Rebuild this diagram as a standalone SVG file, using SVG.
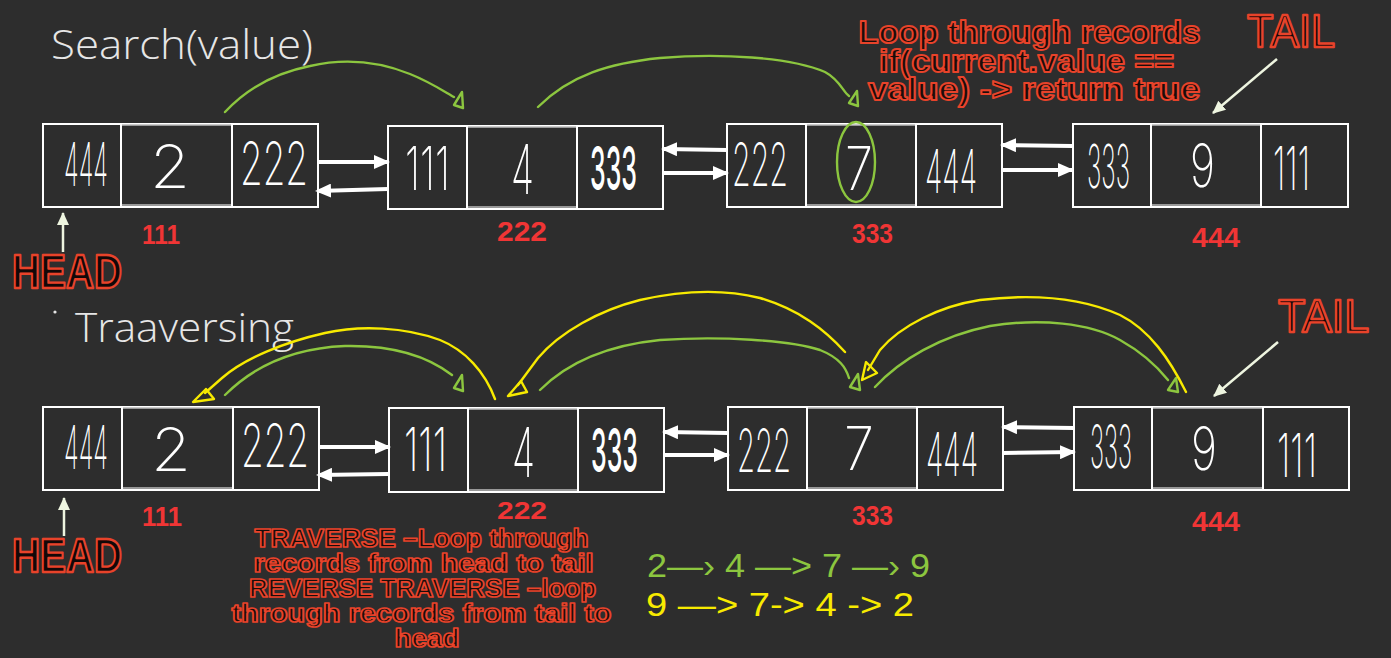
<svg xmlns="http://www.w3.org/2000/svg" width="1391" height="658" viewBox="0 0 1391 658">
<style>
.bg{fill:#2d2d2d}
.box{fill:none;stroke:#ffffff;stroke-width:2}
.div{stroke:#ffffff;stroke-width:2}
.mid{fill:none;stroke:#bdbdbd;stroke-width:1.5}
.dig{font-family:Inter,"Open Sans","Liberation Sans",sans-serif;font-weight:200;font-size:60px;fill:#ffffff}
.addr{font-family:"Liberation Sans Narrow","Liberation Sans",sans-serif;font-weight:bold;font-size:27px;fill:#f03535}
.title{font-family:"Open Sans",Lato,"Liberation Sans",sans-serif;font-weight:300;font-size:41px;fill:#e6e6e6}
.note{font-family:"Liberation Sans Narrow","Liberation Sans",sans-serif;font-weight:700;fill:#1a0d0a;stroke:#e8432a;stroke-width:1.9;stroke-linejoin:round}
.big{font-family:"Liberation Sans",sans-serif;fill:#120808;stroke:#e8432a;stroke-width:2.4;stroke-linejoin:round}
.ptr{stroke:#eef5e0;stroke-width:2.5;fill:none}
.link{stroke:#ffffff;stroke-width:4;fill:none;marker-end:url(#wh)}
.g{stroke:#8cc63f;stroke-width:2.4;fill:none;stroke-linecap:round;stroke-linejoin:round}
.y{stroke:#f7ea00;stroke-width:2.4;fill:none;stroke-linecap:round;stroke-linejoin:round}
.seq{font-family:"Liberation Sans",sans-serif;font-weight:300;font-size:34px}
</style>
<defs>
<marker id="wh" markerUnits="userSpaceOnUse" markerWidth="16" markerHeight="14" refX="14" refY="7" orient="auto">
<path d="M0,0 L16,7 L0,14 Z" fill="#ffffff"/>
</marker>
<marker id="pw" markerUnits="userSpaceOnUse" markerWidth="14" markerHeight="14" refX="12" refY="7" orient="auto">
<path d="M0,1 L13,7 L0,13 Z" fill="#eef5e0"/>
</marker>
</defs>
<rect class="bg" x="0" y="0" width="1391" height="658"/>

<g id="titles">
<text class="title" x="51" y="59" textLength="262" lengthAdjust="spacingAndGlyphs">Search(value)</text>
<circle cx="55" cy="312" r="1.6" fill="#e6e6e6"/>
<text class="title" x="75" y="342" textLength="219" lengthAdjust="spacingAndGlyphs">Traaversing</text>
</g>

<!-- Top row nodes -->
<g id="top-node-111">
<rect class="box" x="43" y="124" width="275" height="83"/>
<rect class="mid" x="121" y="125" width="111" height="80"/>
<line class="div" x1="121" y1="124" x2="121" y2="207"/><line class="div" x1="232" y1="124" x2="232" y2="207"/>
<text class="dig" transform="matrix(0.407 0 0 1 64 186)" textLength="108" lengthAdjust="spacingAndGlyphs">444</text>
<text class="dig" transform="matrix(1.11 0 0 1 150 188)" textLength="36" lengthAdjust="spacingAndGlyphs">2</text>
<text class="dig" transform="matrix(0.63 0 0 1 240 185)" textLength="108" lengthAdjust="spacingAndGlyphs">222</text>
<text class="addr" x="142" y="244" textLength="38" lengthAdjust="spacingAndGlyphs">111</text>
</g>
<g id="top-node-222">
<rect class="box" x="388" y="126" width="275" height="83"/>
<rect class="mid" x="467" y="127" width="110" height="80"/>
<line class="div" x1="467" y1="126" x2="467" y2="209"/><line class="div" x1="577" y1="126" x2="577" y2="209"/>
<text class="dig" transform="matrix(0.417 0 0 1 405 190)" textLength="108" lengthAdjust="spacingAndGlyphs">111</text>
<text class="dig" transform="matrix(0.56 0 0 1 511 194)" textLength="41" lengthAdjust="spacingAndGlyphs" style="font-size:68px">4</text>
<text class="dig" transform="matrix(0.435 0 0 1 590 190)" textLength="108" lengthAdjust="spacingAndGlyphs" style="font-weight:500">333</text>
<text class="addr" x="497" y="241" textLength="50" lengthAdjust="spacingAndGlyphs">222</text>
</g>
<g id="top-node-333">
<rect class="box" x="727" y="124" width="275" height="83"/>
<rect class="mid" x="806" y="125" width="110" height="80"/>
<line class="div" x1="806" y1="124" x2="806" y2="207"/><line class="div" x1="916" y1="124" x2="916" y2="207"/>
<text class="dig" transform="matrix(0.519 0 0 1 732 186)" textLength="108" lengthAdjust="spacingAndGlyphs">222</text>
<text class="dig" transform="matrix(0.778 0 0 1 845 190)" textLength="36" lengthAdjust="spacingAndGlyphs">7</text>
<ellipse cx="856" cy="162" rx="19" ry="40" class="g"/>
<text class="dig" transform="matrix(0.481 0 0 1 925 193)" textLength="108" lengthAdjust="spacingAndGlyphs">444</text>
<text class="addr" x="852" y="243" textLength="41" lengthAdjust="spacingAndGlyphs">333</text>
</g>
<g id="top-node-444">
<rect class="box" x="1073" y="124" width="275" height="83"/>
<rect class="mid" x="1151" y="125" width="110" height="80"/>
<line class="div" x1="1151" y1="124" x2="1151" y2="207"/><line class="div" x1="1261" y1="124" x2="1261" y2="207"/>
<text class="dig" transform="matrix(0.398 0 0 1 1087 188)" textLength="108" lengthAdjust="spacingAndGlyphs">333</text>
<text class="dig" transform="matrix(0.694 0 0 1 1190 187)" textLength="36" lengthAdjust="spacingAndGlyphs">9</text>
<text class="dig" transform="matrix(0.343 0 0 1 1273 190)" textLength="108" lengthAdjust="spacingAndGlyphs">111</text>
<text class="addr" x="1192" y="247" textLength="48" lengthAdjust="spacingAndGlyphs">444</text>
</g>

<!-- Bottom row nodes -->
<g id="bottom-node-111">
<rect class="box" x="43" y="407" width="276" height="83"/>
<rect class="mid" x="122" y="408" width="111" height="80"/>
<line class="div" x1="122" y1="407" x2="122" y2="490"/><line class="div" x1="233" y1="407" x2="233" y2="490"/>
<text class="dig" transform="matrix(0.407 0 0 1 64 469)" textLength="108" lengthAdjust="spacingAndGlyphs">444</text>
<text class="dig" transform="matrix(1.11 0 0 1 151 471)" textLength="36" lengthAdjust="spacingAndGlyphs">2</text>
<text class="dig" transform="matrix(0.63 0 0 1 241 467)" textLength="108" lengthAdjust="spacingAndGlyphs">222</text>
<text class="addr" x="142" y="526" textLength="40" lengthAdjust="spacingAndGlyphs">111</text>
</g>
<g id="bottom-node-222">
<rect class="box" x="389" y="408" width="275" height="84"/>
<rect class="mid" x="468" y="409" width="110" height="81"/>
<line class="div" x1="468" y1="408" x2="468" y2="492"/><line class="div" x1="578" y1="408" x2="578" y2="492"/>
<text class="dig" transform="matrix(0.398 0 0 1 404 471)" textLength="108" lengthAdjust="spacingAndGlyphs">111</text>
<text class="dig" transform="matrix(0.56 0 0 1 512 477)" textLength="41" lengthAdjust="spacingAndGlyphs" style="font-size:68px">4</text>
<text class="dig" transform="matrix(0.435 0 0 1 591 472)" textLength="108" lengthAdjust="spacingAndGlyphs" style="font-weight:500">333</text>
<text class="addr" x="497" y="519" textLength="50" lengthAdjust="spacingAndGlyphs" style="font-size:24px">222</text>
</g>
<g id="bottom-node-333">
<rect class="box" x="728" y="407" width="275" height="83"/>
<rect class="mid" x="807" y="408" width="110" height="80"/>
<line class="div" x1="807" y1="407" x2="807" y2="490"/><line class="div" x1="917" y1="407" x2="917" y2="490"/>
<text class="dig" transform="matrix(0.5 0 0 1 737 472)" textLength="108" lengthAdjust="spacingAndGlyphs">222</text>
<text class="dig" transform="matrix(0.833 0 0 1 844 470)" textLength="36" lengthAdjust="spacingAndGlyphs">7</text>
<text class="dig" transform="matrix(0.481 0 0 1 926 476)" textLength="108" lengthAdjust="spacingAndGlyphs">444</text>
<text class="addr" x="852" y="525" textLength="41" lengthAdjust="spacingAndGlyphs">333</text>
</g>
<g id="bottom-node-444">
<rect class="box" x="1074" y="407" width="275" height="83"/>
<rect class="mid" x="1152" y="408" width="111" height="80"/>
<line class="div" x1="1152" y1="407" x2="1152" y2="490"/><line class="div" x1="1263" y1="407" x2="1263" y2="490"/>
<text class="dig" transform="matrix(0.389 0 0 1 1090 468)" textLength="108" lengthAdjust="spacingAndGlyphs">333</text>
<text class="dig" transform="matrix(0.722 0 0 1 1191 470)" textLength="36" lengthAdjust="spacingAndGlyphs">9</text>
<text class="dig" transform="matrix(0.37 0 0 1 1277 477)" textLength="108" lengthAdjust="spacingAndGlyphs">111</text>
<text class="addr" x="1192" y="531" textLength="48" lengthAdjust="spacingAndGlyphs">444</text>
</g>

<g id="head-tail">
<text class="big" x="12" y="288" font-size="48" font-weight="bold" textLength="110" lengthAdjust="spacingAndGlyphs">HEAD</text>
<line class="ptr" x1="63" y1="252" x2="63" y2="213" marker-end="url(#pw)"/>
<text class="big" x="12" y="572" font-size="48" font-weight="bold" textLength="110" lengthAdjust="spacingAndGlyphs">HEAD</text>
<line class="ptr" x1="64" y1="536" x2="64" y2="498" marker-end="url(#pw)"/>
<text class="big" x="1247" y="47" font-size="46" textLength="88" lengthAdjust="spacingAndGlyphs">TAIL</text>
<line class="ptr" x1="1277" y1="59" x2="1213" y2="113" marker-end="url(#pw)"/>
<text class="big" x="1278" y="332" font-size="46" textLength="91" lengthAdjust="spacingAndGlyphs">TAIL</text>
<line class="ptr" x1="1278" y1="342" x2="1214" y2="396" marker-end="url(#pw)"/>
</g>

<g id="notes">
<text class="note" font-size="32" text-anchor="middle">
<tspan x="1034" y="43" textLength="342" lengthAdjust="spacingAndGlyphs">Loop through records</tspan>
<tspan x="1031" y="72" textLength="295" lengthAdjust="spacingAndGlyphs">if(current.value ==</tspan>
<tspan x="1034" y="100" textLength="332" lengthAdjust="spacingAndGlyphs">value) -&gt; return true</tspan>
</text>
<text class="note" font-size="25" text-anchor="middle" style="stroke-width:1.7">
<tspan x="425" y="547" textLength="334" lengthAdjust="spacingAndGlyphs">TRAVERSE –Loop through</tspan>
<tspan x="427" y="572" textLength="340" lengthAdjust="spacingAndGlyphs">records from head to tail</tspan>
<tspan x="426" y="597" textLength="347" lengthAdjust="spacingAndGlyphs">REVERSE TRAVERSE –loop</tspan>
<tspan x="425" y="622" textLength="380" lengthAdjust="spacingAndGlyphs">through records from tail to</tspan>
<tspan x="427" y="647" textLength="65" lengthAdjust="spacingAndGlyphs">head</tspan>
</text>
<text class="seq" x="647" y="577" fill="#8cc63f" textLength="283" lengthAdjust="spacingAndGlyphs">2—› 4 —&gt; 7 —› 9</text>
<text class="seq" x="646" y="616" fill="#f7ea00" textLength="268" lengthAdjust="spacingAndGlyphs">9 —&gt; 7-&gt; 4 -&gt; 2</text>
</g>

<g id="connectors">
<path class="link" d="M318,162 L388,162"/>
<path class="link" d="M388,189 L317,191"/>
<path class="link" d="M727,150 L663,149"/>
<path class="link" d="M662,173 L727,173"/>
<path class="link" d="M1072,146 L1002,145"/>
<path class="link" d="M1002,170 L1072,170"/>
<path class="link" d="M319,447 L389,447"/>
<path class="link" d="M388,474 L318,475"/>
<path class="link" d="M728,433 L664,432"/>
<path class="link" d="M664,455 L728,455"/>
<path class="link" d="M1074,428 L1003,427"/>
<path class="link" d="M1003,453 L1074,452"/>

<path class="g" d="M225,112 C250,85 280,72 310,66 C345,58 380,62 410,74 C430,82 445,92 454,97"/>
<path class="g" d="M462,92 L454,105 L463,108 Z"/>
<path class="g" d="M538,107 C570,75 610,63 660,58 C720,53 790,57 825,72 C840,80 843,92 849,96"/>
<path class="g" d="M857,91 L849,103 L858,106 Z"/>

<path class="g" d="M225,395 C255,365 295,348 345,346 C395,345 430,358 452,375"/>
<path class="g" d="M462,375 L454,388 L463,391 Z"/>
<path class="y" d="M495,399 C485,372 465,350 440,340 C405,327 360,325 325,333 C285,342 245,358 222,378 L205,393"/>
<path class="y" d="M206,389 L193,402 L214,399 Z"/>
<path class="g" d="M540,390 C570,360 610,345 660,340 C720,336 790,340 820,350 C840,358 846,368 849,378"/>
<path class="g" d="M858,374 L850,387 L860,390 Z"/>
<path class="y" d="M845,352 C825,330 800,310 760,298 C720,288 680,291 640,300 C600,310 560,332 538,358 L518,385"/>
<path class="y" d="M521,381 L508,396 L527,392 Z"/>
<path class="g" d="M875,387 C900,360 940,336 990,326 C1040,318 1090,323 1120,340 C1145,354 1160,370 1168,380"/>
<path class="g" d="M1176,378 L1168,390 L1178,392 Z"/>
<path class="y" d="M1186,392 C1170,360 1150,330 1120,315 C1080,297 1030,294 980,300 C940,306 900,326 880,350 L868,370"/>
<path class="y" d="M866,362 L862,380 L877,373 Z"/>
</g>
</svg>
